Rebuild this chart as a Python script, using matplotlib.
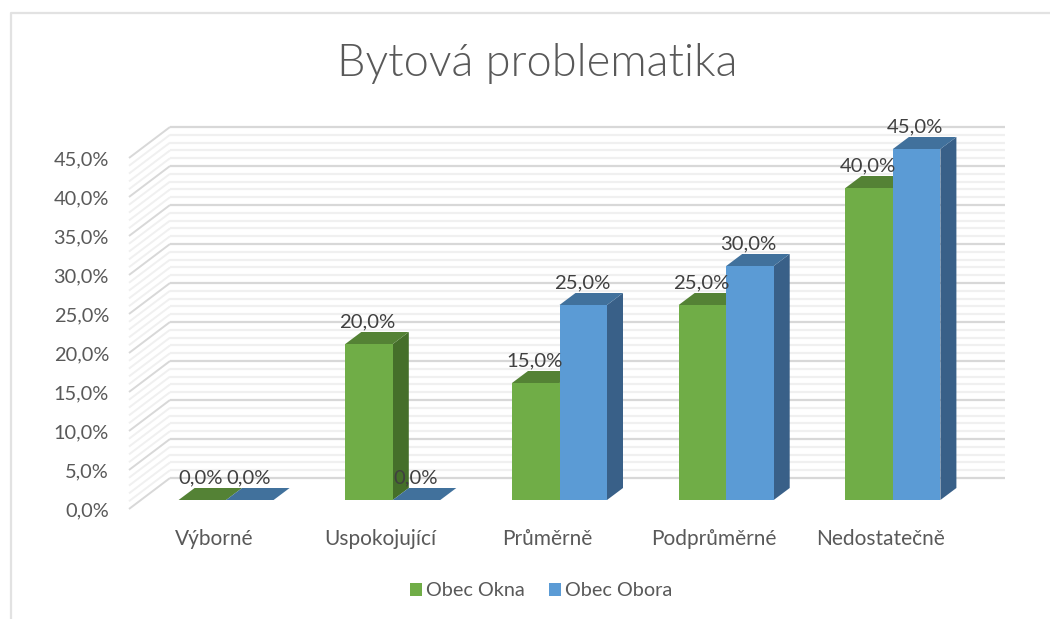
import matplotlib
matplotlib.use("Agg")
import matplotlib.pyplot as plt
from matplotlib.patches import Polygon, Rectangle
from matplotlib.transforms import ScaledTranslation

plt.rcParams['font.family'] = ['Lato', 'DejaVu Sans']

categories = ["Výborné", "Uspokojující", "Průměrně", "Podprůměrné", "Nedostatečně"]
obec_okna = [0, 20, 15, 25, 40]
obec_obora = [0, 0, 25, 30, 45]
series_names = ["Obec Okna", "Obec Obora"]
title = "Bytová problematika"
major_ticks = [0, 5, 10, 15, 20, 25, 30, 35, 40, 45]
minor_ticks = list(range(0, 46))

W, H = 1050, 619
dpi = 100
fig = plt.figure(figsize=(W / dpi, H / dpi), dpi=dpi, facecolor="white")

# Axes covers the bar plane: x pixels 129..1005, y pixels 500 (0 %) .. 149 (45 %)
L, R, B, T = 129, 1005, 500, 149
ax = fig.add_axes([L / W, 1 - B / H, (R - L) / W, (B - T) / H])
ppx = 166.7
x0 = -(226.1 - L) / ppx
ax.set_xlim(x0, x0 + (R - L) / ppx)
ax.set_ylim(0, 45)
ax.patch.set_visible(False)
for s in ax.spines.values():
    s.set_visible(False)

ppy = (B - T) / 45
# depth of the bars and of the wall, in data units
bdx, bdy = 16 / ppx, 12 / ppy
wall_left = x0 + 41 / ppx
wall_right = x0 + (R - L) / ppx
wall_rise = 22 / ppy


def wy(v):
    return v + wall_rise


def fy(v):
    return v - 9 / ppy


for v in minor_ticks:
    major = v in major_ticks
    c = "#d8d8d8" if major else "#f0f0f0"
    z = 1.2 if major else 1
    ax.plot([wall_left, wall_right], [wy(v), wy(v)], color=c, lw=1.6, zorder=z,
            clip_on=False, solid_capstyle="butt")
    ax.plot([x0, wall_left], [fy(v), wy(v)], color=c, lw=1.4, zorder=z,
            clip_on=False, solid_capstyle="butt")

bw = 47.5 / ppx
colors = [("#70ad47", "#548235", "#456f2a"), ("#5b9bd5", "#41719c", "#396088")]


def bar3d(xl, v, cols, z):
    front, top, side = cols
    if v > 0:
        ax.add_patch(Rectangle((xl, 0), bw, v, fc=front, ec="none", zorder=z + 0.2, clip_on=False))
        ax.add_patch(Polygon([(xl + bw, 0), (xl + bw + bdx, bdy), (xl + bw + bdx, v + bdy), (xl + bw, v)],
                             fc=side, ec="none", zorder=z, clip_on=False))
    ax.add_patch(Polygon([(xl, v), (xl + bdx, v + bdy), (xl + bw + bdx, v + bdy), (xl + bw, v)],
                         fc=top, ec="none", zorder=z + 0.1, clip_on=False))


text_c = "#404040"
axis_c = "#595959"
for i, (a, b) in enumerate(zip(obec_okna, obec_obora)):
    bar3d(i - bw, a, colors[0], 3 + 2 * i)
    bar3d(i, b, colors[1], 4 + 2 * i)

for i, (a, b) in enumerate(zip(obec_okna, obec_obora)):
    for xc, v in ((i - bw / 2, a), (i + bw / 2, b)):
        ax.annotate(f"{v:.1f}%".replace(".", ","), (xc, v), xytext=(-1, 12),
                    textcoords="offset points", ha="center", va="baseline",
                    fontsize=14.6, color=text_c, zorder=30, annotation_clip=False)

ax.set_yticks(major_ticks, [f"{v:.1f}%".replace(".", ",") for v in major_ticks])
ax.set_xticks(range(len(categories)), categories)
ax.tick_params(axis="both", length=0, labelcolor=axis_c)
ax.tick_params(axis="y", labelsize=14.4, pad=14.4)
ax.tick_params(axis="x", labelsize=15, pad=21)
off_y = ScaledTranslation(0, -9.5 / dpi, fig.dpi_scale_trans)
for t in ax.get_yticklabels():
    t.set_transform(t.get_transform() + off_y)
off_x = ScaledTranslation(-12 / dpi, 0, fig.dpi_scale_trans)
for t in ax.get_xticklabels():
    t.set_transform(t.get_transform() + off_x)

fig.text(537 / W, 1 - 64 / H, title, ha="center", va="center", fontsize=32.5,
         color="#595959", fontweight=300)

# Legend
handles = [Rectangle((0, 0), 1, 1, fc=colors[0][0]), Rectangle((0, 0), 1, 1, fc=colors[1][0])]
fig.legend(handles, series_names, loc="center", bbox_to_anchor=(541 / W, 1 - 591 / H), ncol=2,
           frameon=False, fontsize=14.3, labelcolor=axis_c, handlelength=0.62, handleheight=0.62,
           handletextpad=0.2, columnspacing=1.2)

# Chart border
fig.add_artist(plt.Line2D([10.5 / W, 10.5 / W, 1], [0, 1 - 13 / H, 1 - 13 / H],
                          color="#e2e2e2", lw=1.6))

fig.savefig("out.png", dpi=dpi)
